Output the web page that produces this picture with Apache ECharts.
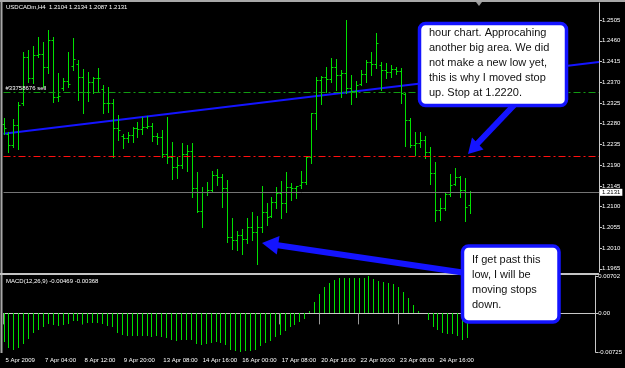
<!DOCTYPE html>
<html><head><meta charset="utf-8">
<script src="https://cdn.jsdelivr.net/npm/echarts@6/dist/echarts.min.js"></script>
<style>html,body{margin:0;padding:0;background:#000;overflow:hidden}#c{width:625px;height:368px}</style>
</head><body><div id="c"></div>
<script>
// ---- data ----
const timeLabels = ["5 Apr 2009","7 Apr 04:00","8 Apr 12:00","9 Apr 20:00","13 Apr 08:00","14 Apr 16:00","16 Apr 00:00","17 Apr 08:00","20 Apr 16:00","22 Apr 00:00","23 Apr 08:00","24 Apr 16:00"];
const opens = [1.2280,1.2258,1.2234,1.2277,1.2325,1.2425,1.2379,1.2429,1.2431,1.2403,
1.2462,1.2338,1.2358,1.2373,1.2405,1.2410,1.2381,1.2349,1.2370,1.2379,
1.2355,1.2325,1.2325,1.2271,1.2254,1.2249,1.2255,1.2271,1.2268,1.2273,
1.2275,1.2253,1.2251,1.2214,1.2208,1.2186,1.2190,1.2214,1.2221,1.2140,
1.2091,1.2132,1.2136,1.2169,1.2165,1.2140,1.2034,1.2028,1.2038,1.2030,
1.2056,1.2045,1.2056,1.2088,1.2080,1.2110,1.2130,1.2108,1.2143,1.2140,
1.2147,1.2153,1.2208,1.2303,1.2375,1.2381,1.2377,1.2403,1.2386,1.2390,
1.2358,1.2352,1.2366,1.2388,1.2414,1.2410,1.2408,1.2397,1.2392,1.2399,
1.2395,1.2345,1.2288,1.2234,1.2238,1.2245,1.2219,1.2173,1.2093,1.2097,
1.2127,1.2150,1.2164,1.2136,1.2104];
const highs = [1.2292,1.2262,1.2290,1.2327,1.2436,1.2440,1.2449,1.2468,1.2457,1.2483,
1.2468,1.2390,1.2379,1.2436,1.2466,1.2418,1.2399,1.2392,1.2381,1.2401,
1.2364,1.2360,1.2334,1.2299,1.2258,1.2262,1.2273,1.2284,1.2295,1.2297,
1.2282,1.2260,1.2266,1.2295,1.2240,1.2208,1.2238,1.2234,1.2238,1.2175,
1.2143,1.2153,1.2177,1.2182,1.2171,1.2158,1.2075,1.2047,1.2052,1.2075,
1.2088,1.2080,1.2145,1.2108,1.2121,1.2143,1.2156,1.2175,1.2151,1.2145,
1.2177,1.2208,1.2303,1.2381,1.2384,1.2403,1.2423,1.2420,1.2397,1.2505,
1.2386,1.2373,1.2397,1.2418,1.2436,1.2477,1.2414,1.2412,1.2407,1.2403,
1.2401,1.2347,1.2292,1.2262,1.2262,1.2253,1.2229,1.2197,1.2119,1.2130,
1.2171,1.2184,1.2166,1.2162,1.2134];
const lows = [1.2258,1.2219,1.2229,1.2225,1.2321,1.2370,1.2368,1.2425,1.2360,1.2390,
1.2327,1.2329,1.2353,1.2360,1.2397,1.2332,1.2303,1.2329,1.2347,1.2349,
1.2303,1.2305,1.2208,1.2245,1.2227,1.2240,1.2240,1.2251,1.2258,1.2271,
1.2242,1.2236,1.2208,1.2195,1.2160,1.2162,1.2184,1.2177,1.2121,1.2088,
1.2056,1.2125,1.2134,1.2147,1.2099,1.2023,1.2008,1.2006,1.1997,1.2021,
1.2028,1.1976,1.2045,1.2060,1.2077,1.2097,1.2075,1.2088,1.2114,1.2119,
1.2140,1.2149,1.2195,1.2268,1.2323,1.2349,1.2370,1.2353,1.2338,1.2347,
1.2323,1.2338,1.2364,1.2370,1.2386,1.2401,1.2353,1.2379,1.2381,1.2388,
1.2325,1.2232,1.2229,1.2212,1.2229,1.2206,1.2149,1.2069,1.2071,1.2093,
1.2123,1.2147,1.2121,1.2069,1.2087];
const closes = [1.2271,1.2234,1.2277,1.2321,1.2425,1.2379,1.2429,1.2431,1.2403,1.2462,
1.2338,1.2340,1.2373,1.2366,1.2420,1.2381,1.2349,1.2370,1.2379,1.2379,
1.2325,1.2325,1.2271,1.2266,1.2249,1.2255,1.2271,1.2268,1.2273,1.2275,
1.2253,1.2251,1.2214,1.2208,1.2186,1.2190,1.2214,1.2221,1.2140,1.2091,
1.2132,1.2136,1.2169,1.2165,1.2140,1.2034,1.2028,1.2038,1.2030,1.2056,
1.2045,1.2056,1.2088,1.2077,1.2110,1.2130,1.2108,1.2143,1.2140,1.2144,
1.2153,1.2208,1.2303,1.2375,1.2381,1.2377,1.2403,1.2386,1.2390,1.2358,
1.2352,1.2364,1.2388,1.2414,1.2410,1.2455,1.2397,1.2392,1.2399,1.2395,
1.2347,1.2288,1.2234,1.2238,1.2245,1.2219,1.2173,1.2093,1.2097,1.2127,
1.2147,1.2164,1.2136,1.2099,1.2131];
const macdHist = [-0.00536,-0.00647,-0.0068,-0.00647,-0.0058,-0.0049,-0.0037,-0.0031,-0.00255,-0.0019,
-0.0021,-0.0023,-0.0021,-0.0019,-0.0014,-0.0014,-0.0019,-0.0018,-0.0018,-0.0018,
-0.0019,-0.0023,-0.0025,-0.0036,-0.0041,-0.0042,-0.0042,-0.0042,-0.0042,-0.0042,
-0.0044,-0.0042,-0.0044,-0.0047,-0.0050,-0.0052,-0.0050,-0.0050,-0.0050,-0.0058,
-0.0060,-0.0058,-0.0055,-0.0054,-0.0055,-0.0060,-0.0069,-0.0071,-0.00725,-0.0071,
-0.0070,-0.0069,-0.0062,-0.0055,-0.0052,-0.0045,-0.0041,-0.0034,-0.0025,-0.0021,
-0.0016,-0.0010,0.0005,0.0021,0.0036,0.0049,0.0057,0.0062,0.0066,0.0066,
0.0066,0.0067,0.0067,0.0066,0.00702,0.0064,0.0061,0.0059,0.0057,0.0055,
0.0049,0.0040,0.0029,0.0016,0.0005,0.0001,-0.0012,-0.0025,-0.0032,-0.0037,
-0.0038,-0.0038,-0.0042,-0.0050,-0.00469];
const priceTicks = [1.1965,1.2010,1.2055,1.2100,1.2145,1.2190,1.2235,1.2280,1.2325,1.2370,1.2415,1.2460,1.2505];
const macdTicks = [-0.00725,0,0.00702];
const currentPrice = 1.2131;
const stopLevel = 1.2210;
const sellLevel = 1.2349;
const trendStart = 1.2258, trendEnd = 1.2414;
const headerText = "USDCADm,H4  1.2104 1.2134 1.2087 1.2131";
const macdText = "MACD(12,26,9) -0.00469 -0.00368";
const note1 = ["hour chart. Approcahing","another big area. We did","not make a new low yet,","this is why I moved stop","up. Stop at 1.2220."];
const note2 = ["If get past this","low, I will be","moving stops","down."];
const slotCount = 121;

// ---- chart ----
const cats = []; for (let i = 0; i < slotCount; i++) cats.push(String(i));
const ohlc = opens.map((o, i) => [i, o, highs[i], lows[i], closes[i]]);
const macdData = macdHist.map((v, i) => [i, v]);
const BAR = '#00e000', BLUE = '#1414ff', AX = '#c8c8c8', FONT = 'Liberation Sans';
const showTick = (i) => i % 8 === 0 && i <= 88;

const chart = echarts.init(document.getElementById('c'), null, {renderer: 'canvas'});
chart.setOption({
  backgroundColor: '#000',
  animation: false,
  grid: [
    {left: 3.5, right: 26, top: 3, height: 269},
    {left: 3.5, right: 26, top: 276, height: 76}
  ],
  xAxis: [
    {type: 'category', gridIndex: 0, data: cats, boundaryGap: false, show: false},
    {type: 'category', gridIndex: 1, data: cats, boundaryGap: false,
     axisLine: {show: true, lineStyle: {color: AX, width: 1}},
     axisTick: {show: true, interval: (i) => showTick(i), length: 11, lineStyle: {color: '#9a9a9a'}},
     axisLabel: {interval: (i) => showTick(i), align: 'left', margin: 5, padding: [0, 0, 0, 2],
       color: '#fff', fontSize: 6, fontFamily: FONT,
       formatter: (v, i) => timeLabels[Math.round(i / 8)] || ''}}
  ],
  yAxis: [
    {type: 'value', gridIndex: 0, position: 'right', min: 1.1958, max: 1.2542, scale: true,
     splitLine: {show: false},
     axisLine: {show: true, lineStyle: {color: AX}},
     axisTick: {show: true, customValues: priceTicks, length: 3, lineStyle: {color: AX}},
     axisLabel: {customValues: priceTicks, margin: 3, color: '#fff', fontSize: 6, fontFamily: FONT,
       formatter: (v) => v.toFixed(4)}},
    {type: 'value', gridIndex: 1, position: 'right', min: -0.00725, max: 0.00702,
     splitLine: {show: false},
     axisLine: {show: true, lineStyle: {color: AX}},
     axisTick: {show: true, customValues: macdTicks, length: 3, lineStyle: {color: AX}},
     axisLabel: {customValues: macdTicks, margin: 3, color: '#fff', fontSize: 6, fontFamily: FONT,
       formatter: (v) => v === 0 ? '0.00' : v.toFixed(5)}}
  ],
  series: [
    {type: 'line', xAxisIndex: 0, yAxisIndex: 0, data: [[0, trendStart], [slotCount - 1, trendEnd]],
     symbol: 'none', lineStyle: {color: BLUE, width: 2}, z: 3, silent: true,
     markLine: {silent: true, symbol: ['none', 'none'], animation: false, precision: 4,
       data: [
         {yAxis: currentPrice, lineStyle: {color: '#747474', width: 1, type: 'solid'},
          label: {show: true, position: 'end', distance: 1, formatter: currentPrice.toFixed(4),
            backgroundColor: '#ffffff', color: '#000', fontSize: 6, fontFamily: FONT, padding: [1, 2, 0, 2]}},
         {yAxis: stopLevel, lineStyle: {color: '#ff1010', width: 1, type: [7, 3, 2, 3]}, label: {show: false}},
         {yAxis: sellLevel, lineStyle: {color: '#129a12', width: 1, type: [7, 3, 2, 3]},
          label: {show: true, position: 'insideStartTop', distance: [2, 1], formatter: '#33758676 sell',
            color: '#fff', fontSize: 6, fontFamily: FONT}}
       ]}},
    {type: 'custom', xAxisIndex: 0, yAxisIndex: 0, data: ohlc, silent: true, z: 4,
     encode: {x: 0, y: [1, 2, 3, 4]},
     renderItem: (params, api) => {
       const i = api.value(0);
       const o = api.coord([i, api.value(1)]);
       const h = api.coord([i, api.value(2)]);
       const l = api.coord([i, api.value(3)]);
       const c = api.coord([i, api.value(4)]);
       const x = Math.round(h[0]) + 0.5;
       const oy = Math.round(o[1]) + 0.5, cy = Math.round(c[1]) + 0.5;
       const st = {stroke: BAR, lineWidth: 1};
       return {type: 'group', children: [
         {type: 'line', shape: {x1: x, y1: Math.round(h[1]), x2: x, y2: Math.round(l[1]) + 1}, style: st},
         {type: 'line', shape: {x1: x - 2, y1: oy, x2: x, y2: oy}, style: st},
         {type: 'line', shape: {x1: x, y1: cy, x2: x + 2, y2: cy}, style: st}
       ]};
     }},
    {type: 'custom', xAxisIndex: 1, yAxisIndex: 1, data: macdData, silent: true,
     encode: {x: 0, y: 1},
     renderItem: (params, api) => {
       const i = api.value(0);
       const z0 = api.coord([i, 0]);
       const p = api.coord([i, api.value(1)]);
       const x = Math.round(p[0]) + 0.5;
       return {type: 'line', shape: {x1: x, y1: Math.round(z0[1]), x2: x, y2: Math.round(p[1])},
         style: {stroke: BAR, lineWidth: 1}};
     }}
  ],
  graphic: [
    {type: 'line', z: 50, shape: {x1: 0, y1: 1, x2: 625, y2: 1}, style: {stroke: '#a8a8a8', lineWidth: 2}},
    {type: 'line', z: 50, shape: {x1: 1.5, y1: 0, x2: 1.5, y2: 353}, style: {stroke: '#a8a8a8', lineWidth: 2}},
    {type: 'line', z: 50, shape: {x1: 0, y1: 274, x2: 599, y2: 274}, style: {stroke: '#c4c4c4', lineWidth: 2}},
    {type: 'polygon', z: 50, shape: {points: [[476, 2], [482, 2], [479, 6]]}, style: {fill: '#9a9a9a'}},
    {type: 'text', z: 50, style: {text: headerText, x: 6, y: 4, fill: '#fff', fontSize: 6, fontFamily: FONT}},
    {type: 'text', z: 50, style: {text: macdText, x: 6, y: 278, fill: '#fff', fontSize: 6, fontFamily: FONT}},
    // arrow 1
    {type: 'line', z: 60, shape: {x1: 517, y1: 102, x2: 477, y2: 144}, style: {stroke: BLUE, lineWidth: 6}},
    {type: 'polygon', z: 60, shape: {points: [[468, 154], [483.5, 149.5], [472, 137.5]]}, style: {fill: BLUE}},
    // arrow 2
    {type: 'line', z: 60, shape: {x1: 466, y1: 273, x2: 276, y2: 245}, style: {stroke: BLUE, lineWidth: 6}},
    {type: 'polygon', z: 60, shape: {points: [[262, 243], [279.5, 236], [276.8, 254.5]]}, style: {fill: BLUE}},
    // box 1
    {type: 'rect', z: 70, shape: {x: 419.5, y: 23.5, width: 147, height: 82, r: 6}, style: {fill: '#fff', stroke: BLUE, lineWidth: 3.5}},
    {type: 'text', z: 71, style: {text: note1.join('\n'), x: 429, y: 25.5, fill: '#111', fontSize: 11, fontFamily: FONT, lineHeight: 15, verticalAlign: 'top'}},
    // box 2
    {type: 'rect', z: 70, shape: {x: 462.5, y: 246, width: 96.5, height: 76, r: 6}, style: {fill: '#fff', stroke: BLUE, lineWidth: 3.5}},
    {type: 'text', z: 71, style: {text: note2.join('\n'), x: 472, y: 252.5, fill: '#111', fontSize: 11, fontFamily: FONT, lineHeight: 15, verticalAlign: 'top'}}
  ]
});
</script></body></html>
